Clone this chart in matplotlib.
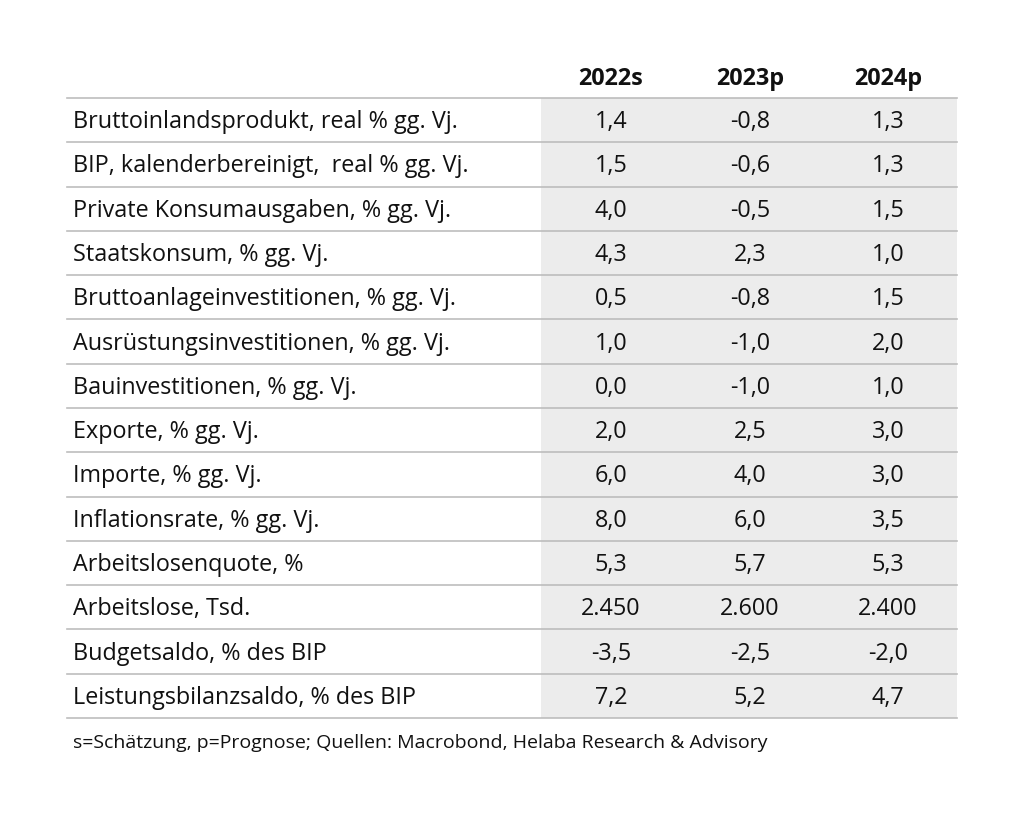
import matplotlib.pyplot as plt
from matplotlib.patches import Rectangle

plt.rcParams['font.family'] = ['Open Sans', 'DejaVu Sans']

# Tabellendaten
columns = ['2022s', '2023p', '2024p']
labels = [
    'Bruttoinlandsprodukt, real % gg. Vj.',
    'BIP, kalenderbereinigt,  real % gg. Vj.',
    'Private Konsumausgaben, % gg. Vj.',
    'Staatskonsum, % gg. Vj.',
    'Bruttoanlageinvestitionen, % gg. Vj.',
    'Ausrüstungsinvestitionen, % gg. Vj.',
    'Bauinvestitionen, % gg. Vj.',
    'Exporte, % gg. Vj.',
    'Importe, % gg. Vj.',
    'Inflationsrate, % gg. Vj.',
    'Arbeitslosenquote, %',
    'Arbeitslose, Tsd.',
    'Budgetsaldo, % des BIP',
    'Leistungsbilanzsaldo, % des BIP',
]
v2022 = ['1,4', '1,5', '4,0', '4,3', '0,5', '1,0', '0,0', '2,0', '6,0', '8,0', '5,3', '2.450', '-3,5', '7,2']
v2023 = ['-0,8', '-0,6', '-0,5', '2,3', '-0,8', '-1,0', '-1,0', '2,5', '4,0', '6,0', '5,7', '2.600', '-2,5', '5,2']
v2024 = ['1,3', '1,3', '1,5', '1,0', '1,5', '2,0', '1,0', '3,0', '3,0', '3,5', '5,3', '2.400', '-2,0', '4,7']
note = 's=Schätzung, p=Prognose; Quellen: Macrobond, Helaba Research & Advisory'

fig = plt.figure(figsize=(10.24, 8.22), dpi=100)
ax = fig.add_axes([0, 0, 1, 1])
ax.set_xlim(0, 1024)
ax.set_ylim(822, 0)
ax.axis('off')

x0, x1, xs = 67, 957, 541
top = 98
rh = (718 - top) / len(labels)
col_x = [611, 750, 888]
fs = 16.8

# grauer Hintergrund der Wertespalten
ax.add_patch(Rectangle((xs, top), x1 - xs, rh * len(labels), color='#ececec', lw=0, zorder=0))

for i, c in enumerate(columns):
    ax.text(col_x[i], 79, c, ha='center', va='center', fontsize=fs, fontweight='bold', color='#111111')

for r in range(len(labels) + 1):
    y = top + r * rh
    ax.plot([x0, x1], [y, y], color='#bdbdbd', lw=1.2, zorder=1)

for r, lab in enumerate(labels):
    yc = top + (r + 0.5) * rh + 2
    ax.text(73, yc, lab, ha='left', va='center', fontsize=fs, color='#111111')
    for i, vals in enumerate([v2022, v2023, v2024]):
        ax.text(col_x[i], yc, vals[r], ha='center', va='center', fontsize=fs, color='#111111')

ax.text(73, 743, note, ha='left', va='center', fontsize=14, color='#111111')

fig.savefig('out.png', dpi=100)
